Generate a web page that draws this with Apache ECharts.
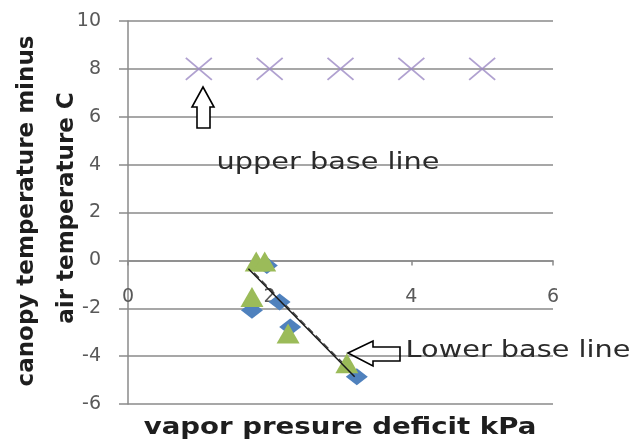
<!DOCTYPE html>
<html>
<head>
<meta charset="utf-8">
<script src="https://cdn.jsdelivr.net/npm/echarts@6/dist/echarts.min.js"></script>
<style>html,body{margin:0;padding:0;background:#fff}#c{width:635px;height:443px}</style>
</head>
<body>
<div id="c"></div>
<script>
// ---- data ----
const xTicks = [0, 2, 4, 6];
const yTicks = [-6, -4, -2, 0, 2, 4, 6, 8, 10];

const upperX = [1, 2, 3, 4, 5];
const upperY = [8, 8, 8, 8, 8];

const blueX = [1.75, 1.96, 2.14, 2.29, 3.23];
const blueY = [-2.08, -0.21, -1.74, -2.78, -4.86];

const greenX = [1.81, 1.93, 1.75, 2.26, 3.09];
const greenY = [-0.05, -0.05, -1.53, -3.05, -4.30];

// lower base lines (drawn lines, endpoints in data units)
const lowerLineX = [1.70, 3.20];
const lowerLineY = [-0.35, -4.86];
const lowerLine2X = [1.78, 3.17];
const lowerLine2Y = [-0.52, -4.70];

const xTitle = 'vapor presure deficit kPa';
const yTitle1 = 'canopy temperature minus';
const yTitle2 = 'air temperature C';
const upperLabel = 'upper base line';
const lowerLabel = 'Lower base line';

// ---- build ----
const zip = (a, b) => a.map((v, i) => [v, b[i]]);
const gridCol = '#8a8a8a';
const tickFont = { fontFamily: 'DejaVu Sans', fontSize: 19, color: '#595959' };

const gridTop = 21, gridBottom = 39, H = 443;
const plotH = H - gridTop - gridBottom;
const yMin = yTicks[0], yMax = yTicks[yTicks.length - 1];
// place the x axis on y = 0 (offset from the bottom edge of the grid)
const xAxisOffset = -((0 - yMin) / (yMax - yMin)) * plotH;

const chart = echarts.init(document.getElementById('c'), null, { renderer: 'canvas' });
const option = {
  animation: false,
  backgroundColor: '#ffffff',
  grid: { left: 128, right: 82, top: gridTop, bottom: gridBottom, containLabel: false },
  xAxis: {
    type: 'value', min: xTicks[0], max: xTicks[xTicks.length - 1], interval: 2,
    position: 'bottom', offset: xAxisOffset,
    axisLine: { onZero: false, lineStyle: { color: gridCol, width: 1.5 } },
    axisTick: { show: true, length: 5, lineStyle: { color: gridCol, width: 1.5 } },
    axisLabel: Object.assign({ margin: 27 }, tickFont),
    splitLine: { show: false }
  },
  yAxis: {
    type: 'value', min: yMin, max: yMax, interval: 2,
    axisLine: { show: true, onZero: false, lineStyle: { color: gridCol, width: 1.5 } },
    axisTick: { show: true, length: 9, lineStyle: { color: gridCol, width: 1.5 } },
    axisLabel: Object.assign({ margin: 27 }, tickFont),
    splitLine: { show: true, lineStyle: { color: gridCol, width: 1.5 } }
  },
  series: [
    {
      type: 'line', data: zip(lowerLine2X, lowerLine2Y), showSymbol: false, symbol: 'none',
      lineStyle: { color: '#444444', width: 1.3, type: [7, 4] }, z: 3, silent: true
    },
    {
      type: 'scatter', data: zip(blueX, blueY), symbol: 'diamond', symbolSize: [22, 17],
      itemStyle: { color: '#4f81bd', opacity: 1 }, z: 4
    },
    {
      type: 'scatter', data: zip(greenX, greenY), symbol: 'triangle', symbolSize: [23, 20],
      itemStyle: { color: '#9bbb59', opacity: 1 }, z: 5
    },
    {
      type: 'line', data: zip(lowerLineX, lowerLineY), showSymbol: false, symbol: 'none',
      lineStyle: { color: '#1a1a1a', width: 1.5 }, z: 6, silent: true
    },
    {
      type: 'scatter', data: zip(upperX, upperY),
      symbol: 'path://M0,0L10,10M10,0L0,10', symbolSize: [26, 22],
      itemStyle: { color: 'rgba(0,0,0,0)', borderColor: '#9c89c4', borderWidth: 1.6 }, z: 5
    }
  ],
  graphic: [
    {
      type: 'polygon', z: 10,
      shape: { points: [[203, 87], [214, 107], [210, 107], [210, 128], [197, 128], [197, 107], [192, 107]] },
      style: { fill: '#ffffff', stroke: '#000000', lineWidth: 1.6 }
    },
    {
      type: 'polygon', z: 10,
      shape: { points: [[348, 353], [373, 341], [373, 347], [400, 347], [400, 361], [373, 361], [373, 366]] },
      style: { fill: 'none', stroke: '#000000', lineWidth: 1.6 }
    },
    {
      type: 'text', z: 10, x: 328, y: 163, scaleX: 1.25,
      style: { text: upperLabel, font: '23px "DejaVu Sans"', fill: '#2b2b2b', align: 'center', verticalAlign: 'middle' }
    },
    {
      type: 'text', z: 10, x: 518, y: 351, scaleX: 1.25,
      style: { text: lowerLabel, font: '23px "DejaVu Sans"', fill: '#2b2b2b', align: 'center', verticalAlign: 'middle' }
    },
    {
      type: 'text', z: 10, x: 340, y: 428, scaleX: 1.2,
      style: { text: xTitle, font: 'bold 23px "DejaVu Sans"', fill: '#1e1e1e', align: 'center', verticalAlign: 'middle' }
    },
    {
      type: 'text', z: 10, x: 27, y: 211, rotation: Math.PI / 2,
      style: { text: yTitle1, font: 'bold 23px "DejaVu Sans"', fill: '#1e1e1e', align: 'center', verticalAlign: 'middle' }
    },
    {
      type: 'text', z: 10, x: 67, y: 208, rotation: Math.PI / 2,
      style: { text: yTitle2, font: 'bold 23px "DejaVu Sans"', fill: '#1e1e1e', align: 'center', verticalAlign: 'middle' }
    }
  ]
};
chart.setOption(option);
</script>
</body>
</html>
